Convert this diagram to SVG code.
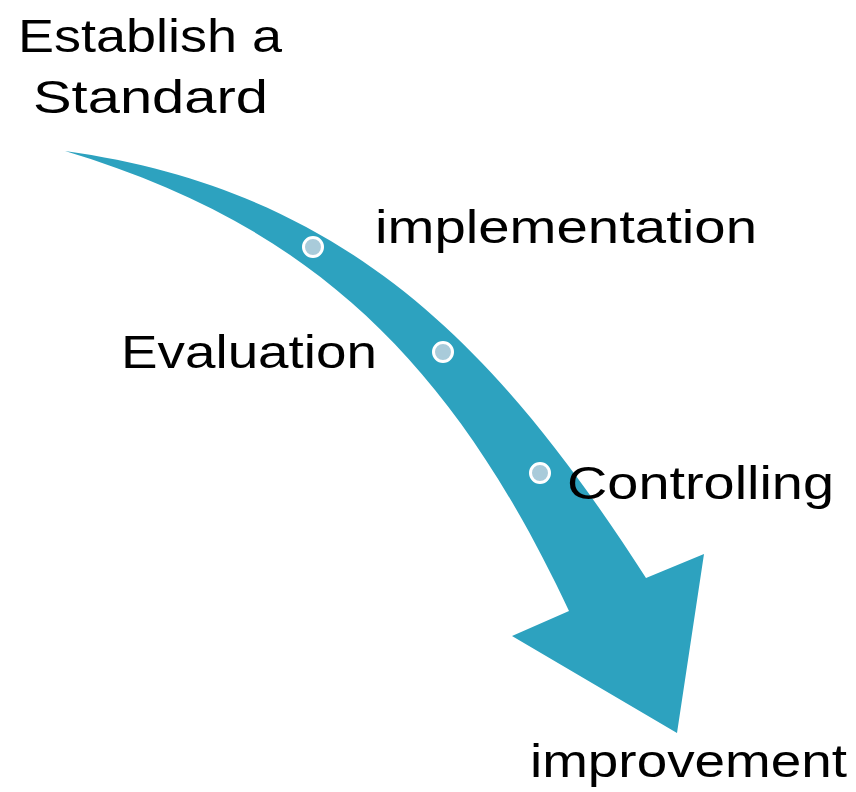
<svg xmlns="http://www.w3.org/2000/svg" width="856" height="792" viewBox="0 0 856 792">
<style>
.lbl{font-family:"Liberation Sans",Arial,sans-serif;font-size:47px;fill:#000}
.dot{fill:#A9CBDA;stroke:#fff;stroke-width:3}
</style>
<rect width="856" height="792" fill="#fff"/>
<g id="arrow">
<path d="M65,151 C345,190 496,345 646,578 L704,554 L677,733 L512,636 L569,611 C449,355 305,223 65,151 Z" fill="#2DA2BF"/>
</g>
<g id="connectors"></g>
<g id="dot-implementation"><circle class="dot" cx="313" cy="247" r="9.5"/></g>
<g id="dot-evaluation"><circle class="dot" cx="443" cy="352" r="9.5"/></g>
<g id="dot-controlling"><circle class="dot" cx="540" cy="473" r="9.5"/></g>
<g id="node-standard">
<text class="lbl" x="18" y="52" textLength="264" lengthAdjust="spacingAndGlyphs">Establish a</text>
<text class="lbl" x="33" y="113" textLength="235" lengthAdjust="spacingAndGlyphs">Standard</text>
</g>
<g id="node-implementation"><text class="lbl" x="375" y="243" textLength="382" lengthAdjust="spacingAndGlyphs">implementation</text></g>
<g id="node-evaluation"><text class="lbl" x="121" y="368" textLength="256" lengthAdjust="spacingAndGlyphs">Evaluation</text></g>
<g id="node-controlling"><text class="lbl" x="567" y="499" textLength="267" lengthAdjust="spacingAndGlyphs">Controlling</text></g>
<g id="node-improvement"><text class="lbl" x="530" y="777" textLength="317" lengthAdjust="spacingAndGlyphs">improvement</text></g>
</svg>
